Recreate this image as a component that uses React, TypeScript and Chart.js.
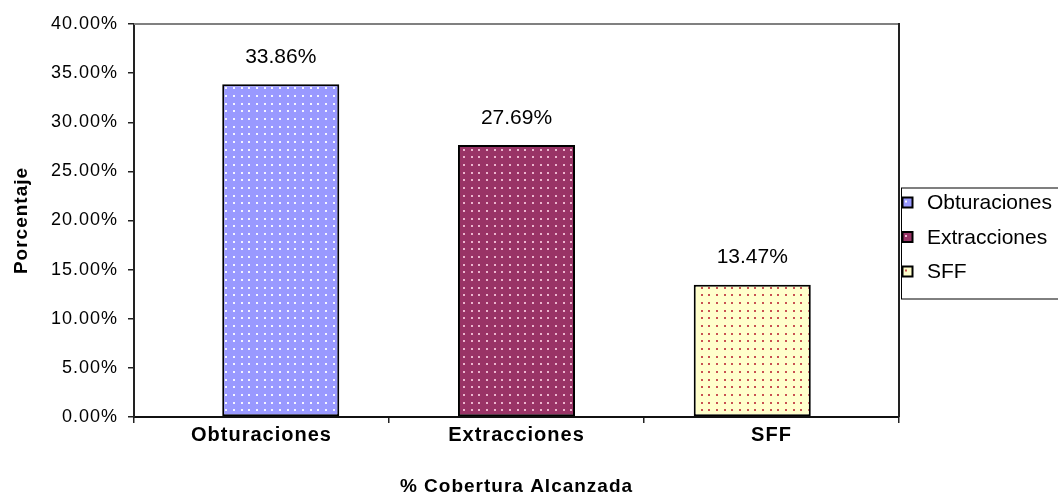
import React, { useEffect, useRef } from "react";
import { Chart, registerables } from "chart.js";

Chart.register(...registerables);

const categories = ["Obturaciones", "Extracciones", "SFF"];
const seriesNames = ["Obturaciones", "Extracciones", "SFF"];
const coverageValues = [33.86, 27.69, 13.47];
const yMin = 0;
const yMax = 40;
const yStep = 5;
const xTitle = "% Cobertura Alcanzada";
const yTitle = "Porcentaje";

const fillColors = ["#9999FF", "#993366", "#FFFFCC"];
const dotColors = ["rgba(255,255,255,0.9)", "rgba(250,205,225,0.85)", "rgba(190,50,60,0.85)"];

const FONT = "'Liberation Sans', Arial, Helvetica, sans-serif";

function makePattern(bg: string, dot: string): CanvasPattern | string {
  const c = document.createElement("canvas");
  c.width = 23;
  c.height = 23;
  const g = c.getContext("2d");
  if (!g) return bg;
  g.fillStyle = bg;
  g.fillRect(0, 0, 23, 23);
  g.fillStyle = dot;
  for (const x of [3, 11, 18]) {
    for (const y of [3, 11, 18]) {
      g.fillRect(x, y, 2, 2);
    }
  }
  const p = g.createPattern(c, "repeat");
  return p || bg;
}

export default function App() {
  const canvasRef = useRef<HTMLCanvasElement | null>(null);

  useEffect(() => {
    const canvas = canvasRef.current;
    if (!canvas) return;
    const patterns = fillColors.map((c, i) => makePattern(c, dotColors[i]));

    // datasets in reversed order so that grouped slots reproduce the original offsets
    const order = [2, 1, 0];
    const datasets = order.map((i) => ({
      label: seriesNames[i],
      data: categories.map((_, j) => (j === i ? coverageValues[i] : null)),
      backgroundColor: patterns[i] as any,
      borderColor: "#000000",
      borderWidth: 2,
      borderSkipped: false as const,
      categoryPercentage: 0.2265,
      barPercentage: 6.08,
    }));

    const spacingPlugin = {
      id: "spacing",
      beforeDraw(chart: any) {
        (chart.ctx as any).letterSpacing = "1px";
      },
      beforeDatasetsDraw(chart: any) {
        (chart.ctx as any).letterSpacing = "0px";
      },
    };

    const framePlugin = {
      id: "frame",
      afterDraw(chart: any) {
        const { ctx, chartArea } = chart;
        ctx.save();
        (ctx as any).letterSpacing = "0px";
        ctx.lineWidth = 2;
        ctx.strokeStyle = "#808080";
        ctx.beginPath();
        ctx.moveTo(chartArea.left, chartArea.top);
        ctx.lineTo(chartArea.right, chartArea.top);
        ctx.stroke();
        ctx.strokeStyle = "#222222";
        ctx.beginPath();
        ctx.moveTo(chartArea.right, chartArea.top - 1);
        ctx.lineTo(chartArea.right, chartArea.bottom);
        ctx.stroke();
        ctx.restore();
      },
    };

    const labelPlugin = {
      id: "valueLabels",
      afterDatasetsDraw(chart: any) {
        const { ctx } = chart;
        ctx.save();
        (ctx as any).letterSpacing = "0px";
        ctx.font = `21px ${FONT}`;
        ctx.fillStyle = "#000000";
        ctx.textAlign = "center";
        ctx.textBaseline = "middle";
        chart.data.datasets.forEach((ds: any, di: number) => {
          const meta = chart.getDatasetMeta(di);
          ds.data.forEach((v: number | null, j: number) => {
            if (v === null || v === undefined) return;
            const el = meta.data[j];
            ctx.fillText(`${v.toFixed(2)}%`, el.x, el.y - 27);
          });
        });
        ctx.restore();
      },
    };

    const legendPlugin = {
      id: "boxLegend",
      afterDraw(chart: any) {
        const { ctx, chartArea } = chart;
        const boxH = 111;
        const top = chart.height / 2 - 6 - boxH / 2;
        const left = chartArea.right + 2;
        ctx.save();
        (ctx as any).letterSpacing = "0px";
        ctx.fillStyle = "#FFFFFF";
        ctx.fillRect(left, top, chart.width - left + 5, boxH);
        ctx.strokeStyle = "#000000";
        ctx.lineWidth = 1;
        ctx.strokeRect(left + 0.5, top + 0.5, chart.width - left + 5, boxH);
        ctx.font = `21px ${FONT}`;
        ctx.textAlign = "left";
        ctx.textBaseline = "middle";
        seriesNames.forEach((name, i) => {
          const cy = top + 15 + i * 34.5;
          ctx.fillStyle = fillColors[i];
          ctx.fillRect(left + 1.5, cy - 5, 10, 10);
          ctx.fillStyle = dotColors[i];
          ctx.fillRect(left + 4, cy - 2, 2, 2);
          ctx.strokeStyle = "#000000";
          ctx.lineWidth = 2;
          ctx.strokeRect(left + 1.5, cy - 5, 10, 10);
          ctx.fillStyle = "#000000";
          ctx.fillText(name, left + 26, cy + 1);
        });
        ctx.restore();
      },
    };

    const chart = new Chart(canvas, {
      type: "bar",
      data: { labels: categories, datasets },
      options: {
        animation: false,
        responsive: false,
        maintainAspectRatio: false,
        layout: { padding: { top: 24, right: 159, left: 0, bottom: 0 } },
        plugins: {
          legend: { display: false },
          tooltip: { enabled: false },
        },
        scales: {
          x: {
            offset: true,
            grid: {
              display: true,
              drawOnChartArea: false,
              drawTicks: true,
              tickLength: 6,
              color: "#222222",
              lineWidth: 1.5,
              offset: true,
            },
            border: { display: true, color: "#111111", width: 2 },
            ticks: {
              color: "#000000",
              padding: 0,
              font: { family: FONT, size: 20, weight: "bold" },
              maxRotation: 0,
            },
            title: {
              display: true,
              text: xTitle,
              color: "#000000",
              font: { family: FONT, size: 19, weight: "bold" },
              padding: { top: 0, bottom: 0 },
            },
            afterFit(scale: any) {
              scale.height = 81;
            },
          },
          y: {
            min: yMin,
            max: yMax,
            ticks: {
              stepSize: yStep,
              color: "#000000",
              padding: 10,
              font: { family: FONT, size: 18 },
              callback: (v: any) => `${Number(v).toFixed(2)}%`,
            },
            grid: {
              display: true,
              drawOnChartArea: false,
              drawTicks: true,
              tickLength: 6,
              color: "#222222",
              lineWidth: 1.5,
            },
            border: { display: true, color: "#222222", width: 2 },
            title: {
              display: true,
              text: yTitle,
              color: "#000000",
              font: { family: FONT, size: 19, weight: "bold" },
              padding: { top: 10, bottom: 0 },
            },
            afterFit(scale: any) {
              scale.width = 134;
            },
          },
        },
      },
      plugins: [spacingPlugin, framePlugin, labelPlugin, legendPlugin],
    } as any);

    return () => chart.destroy();
  }, []);

  return (
    <div style={{ position: "absolute", left: 0, top: 0, width: 1058, height: 498, background: "#ffffff" }}>
      <canvas ref={canvasRef} width={1058} height={498} style={{ display: "block" }} />
    </div>
  );
}
